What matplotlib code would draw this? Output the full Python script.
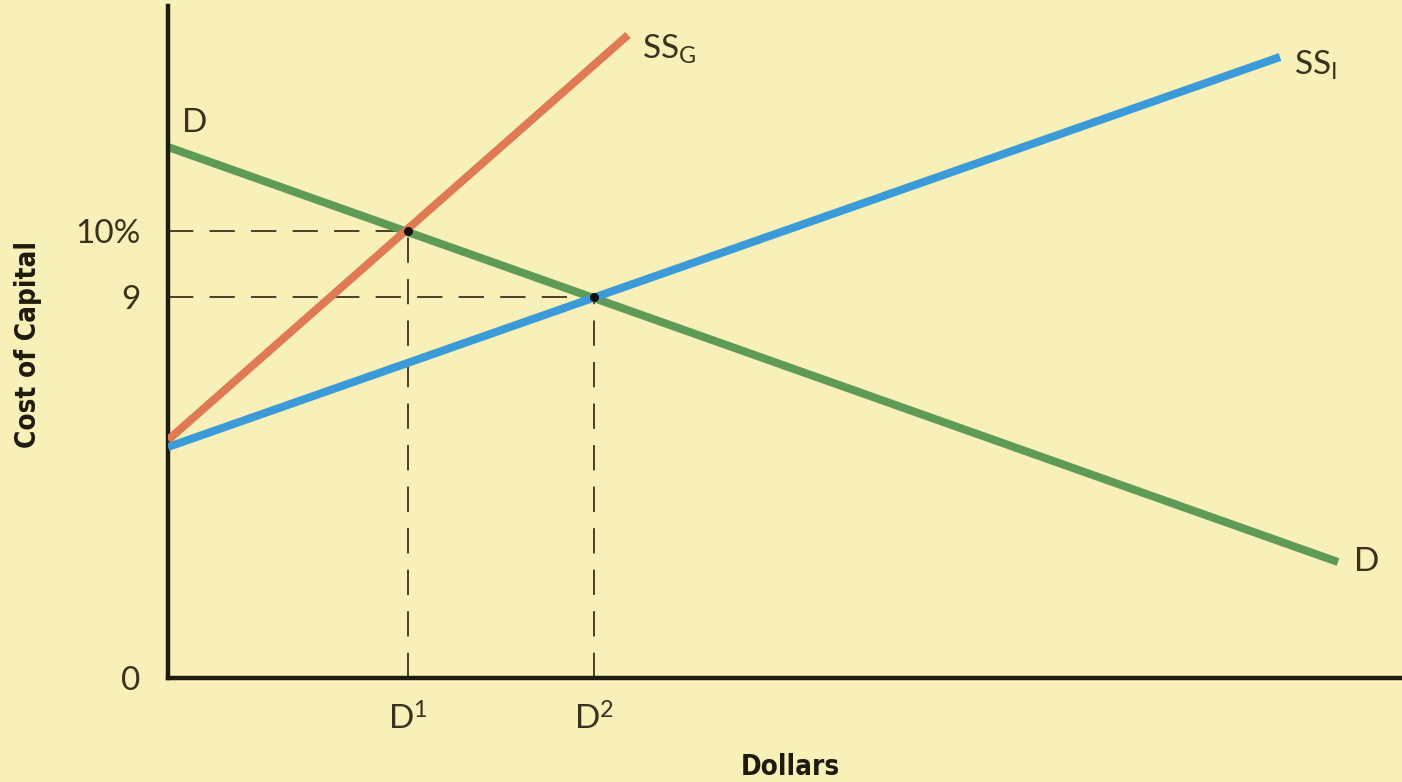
import numpy as np
import matplotlib
matplotlib.use("Agg")
import matplotlib.pyplot as plt

# schematic diagram: units are arbitrary (dollars on x, cost of capital on y)
dollars_ssg = [0, 460]
cost_ssg = [238, 643]
dollars_ssi = [0, 1112]
cost_ssi = [231, 621]
dollars_d = [0, 1170]
cost_d = [531, 116]

# equilibrium points (D1 at 10%, D2 at 9)
eq_x = [240, 426]
eq_y = [447, 381]
ytick_pos = [0, 381, 447]
ytick_labels = ["0", "9", "10%"]
xtick_labels = ["D$^1$", "D$^2$"]

plt.rcParams["mathtext.fontset"] = "custom"
plt.rcParams["mathtext.rm"] = "Lato"
plt.rcParams["mathtext.it"] = "Lato"
plt.rcParams["mathtext.default"] = "regular"

bg = "#f8f0b9"
ink = "#3a321c"
label_font = ["Lato", "DejaVu Sans"]
bold_font = ["DejaVu Sans"]

fig = plt.figure(figsize=(14.02, 7.82), dpi=100, facecolor=bg)
ax = fig.add_axes([168 / 1402, (782 - 678) / 782, (1402 - 168) / 1402, (678 - 6) / 782])
ax.set_facecolor(bg)
ax.set_xlim(0, 1234)
ax.set_ylim(0, 672)

for s in ["top", "right"]:
    ax.spines[s].set_visible(False)
for s in ["left", "bottom"]:
    ax.spines[s].set_linewidth(3.2)
    ax.spines[s].set_color("#1e1a0c")
    ax.spines[s].set_capstyle("projecting")

# dashed guide lines
for x, y in zip(eq_x, eq_y):
    ax.plot([0, x], [y, y], color=ink, lw=1.3, dashes=(14, 9), zorder=1)
    ax.plot([x, x], [0, y], color=ink, lw=1.3, dashes=(14, 9), zorder=1)

ax.plot(dollars_d, cost_d, color="#5f9a57", lw=5.8, solid_capstyle="butt", zorder=2)
ax.plot(dollars_ssi, cost_ssi, color="#3a9bd8", lw=5.8, solid_capstyle="butt", zorder=3)
ax.plot(dollars_ssg, cost_ssg, color="#e07a52", lw=5.8, solid_capstyle="butt", zorder=3)
ax.scatter(eq_x, eq_y, s=30, color="#111111", zorder=5)

ax.set_yticks(ytick_pos)
ax.set_yticklabels(ytick_labels, fontsize=24, color=ink, family=label_font)
ax.set_xticks(eq_x)
ax.set_xticklabels(xtick_labels, fontsize=24, color=ink, family=label_font)
ax.tick_params(length=0)
ax.tick_params(axis="y", pad=20)
ax.tick_params(axis="x", pad=18)

# curve labels
lab = dict(fontsize=24, color=ink, family=label_font, va="center", ha="left")
ax.text(dollars_ssg[1] + 14, cost_ssg[1] - 14, "SS$_G$", **lab)
ax.text(dollars_ssi[1] + 14, cost_ssi[1] - 8, "SS$_I$", **lab)
ax.text(14, cost_d[0] + 24, "D", **lab)
ax.text(dollars_d[1] + 16, cost_d[1] + 0, "D", **lab)

fig.text(28 / 1402, 1 - 345 / 782, "Cost of Capital", rotation=90, ha="center", va="center",
         fontsize=20, fontweight="bold", fontstretch="condensed", color="#1e1a0c", family=bold_font)
fig.text(790 / 1402, 1 - 767 / 782, "Dollars", ha="center", va="center",
         fontsize=20, fontweight="bold", fontstretch="condensed", color="#1e1a0c", family=bold_font)

fig.savefig("out.png", dpi=100, facecolor=bg)
